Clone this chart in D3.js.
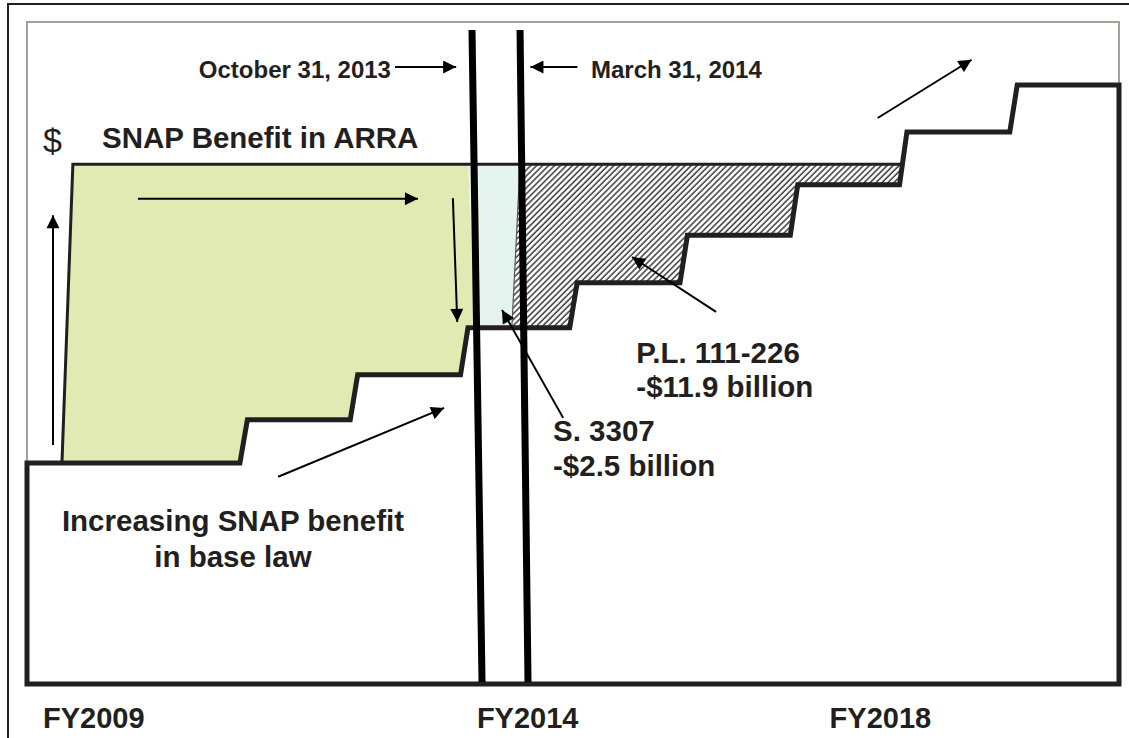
<!DOCTYPE html>
<html>
<head>
<meta charset="utf-8">
<script src="https://cdn.jsdelivr.net/npm/d3@7"></script>
<style>
body { margin: 0; background: #fff; }
text { font-family: "Liberation Sans", Arial, sans-serif; fill: #231f20; }
</style>
</head>
<body>
<div id="entry"></div>
<script>
// base law benefit steps: time in plot units (x), benefit as an index (y)
var periodStart = [0, 1.95, 2.96, 3.97, 4.97, 5.98, 6.99, 7.99, 9.0];
var baseLevel = [33.4, 39.9, 46.7, 53.8, 60.6, 67.8, 75.4, 83.4, 90.5];
var riser = 0.068;

// ARRA benefit level and the edges of the shaded pieces
var arraLevel = 78.5;
var arraLeft = [0.32, 0.42];      // bottom, top
var arraRight = [4.10, 4.04];     // bottom, top
var s3307Right = [4.44, 4.515];   // bottom, top

var eventNames = ['October 31, 2013', 'March 31, 2014'];
var eventTop = [4.075, 4.515];
var eventBottom = [4.167, 4.588];

var fyLabels = ['FY2009', 'FY2014', 'FY2018'];
var fyPos = [0.147, 4.12, 7.35];

// annotation arrows [t0, v0, t1, v1]
var arrows = [
  [0.238, 36.1, 0.238, 70.8],
  [1.016, 73.3, 3.58, 73.3],
  [3.90, 73.4, 3.94, 54.7],
  [2.30, 31.3, 3.82, 41.7],
  [4.91, 40.2, 4.35, 56.5],
  [6.31, 56.2, 5.54, 64.5],
  [7.79, 85.5, 8.65, 94.3],
  [3.37, 93.2, 3.93, 93.2],
  [5.04, 93.2, 4.61, 93.2]
];

// text labels [text, t, v, anchor, size, weight]
var labels = [
  ['$', 0.147, 80.4, 'start', 34, 'normal'],
  ['SNAP Benefit in ARRA', 0.687, 81.0, 'start', 29.5, 'bold'],
  ['October 31, 2013', 3.333, 91.5, 'end', 24, 'bold'],
  ['March 31, 2014', 5.165, 91.5, 'start', 24, 'bold'],
  ['Increasing SNAP benefit', 1.886, 23.1, 'middle', 29.5, 'bold'],
  ['in base law', 1.886, 17.7, 'middle', 29.5, 'bold'],
  ['S. 3307', 4.817, 36.7, 'start', 29.5, 'bold'],
  ['-$2.5 billion', 4.817, 31.4, 'start', 29.5, 'bold'],
  ['P.L. 111-226', 5.58, 48.5, 'start', 29.5, 'bold'],
  ['-$11.9 billion', 5.58, 43.35, 'start', 29.5, 'bold']
];

var width = 1129, height = 738;

var x = d3.scaleLinear().domain([0, 10]).range([27, 1119]);
var y = d3.scaleLinear().domain([0, 100]).range([684, 22]);

var line = d3.line()
  .x(function(d) { return x(d[0]); })
  .y(function(d) { return y(d[1]); });

function stepPoints() {
  var pts = [[0, baseLevel[0]]];
  for (var i = 1; i < periodStart.length; i++) {
    pts.push([periodStart[i], baseLevel[i - 1]]);
    pts.push([periodStart[i] + riser, baseLevel[i]]);
  }
  pts.push([10, baseLevel[baseLevel.length - 1]]);
  return pts;
}

function levelAt(t) {
  var pts = stepPoints();
  for (var i = 1; i < pts.length; i++) {
    if (t <= pts[i][0]) {
      var a = pts[i - 1], b = pts[i];
      if (b[0] === a[0]) return b[1];
      return a[1] + (b[1] - a[1]) * (t - a[0]) / (b[0] - a[0]);
    }
  }
  return pts[pts.length - 1][1];
}

function stepBetween(t0, t1) {
  var out = [[t0, levelAt(t0)]];
  stepPoints().forEach(function(p) {
    if (p[0] > t0 && p[0] < t1) out.push(p);
  });
  out.push([t1, levelAt(t1)]);
  return out;
}

var svg = d3.select('#entry').append('svg')
  .attr('width', width)
  .attr('height', height);

var defs = svg.append('defs');

defs.append('pattern')
  .attr('id', 'hatch')
  .attr('patternUnits', 'userSpaceOnUse')
  .attr('width', 4.2)
  .attr('height', 4.2)
  .attr('patternTransform', 'rotate(45)')
  .call(function(p) {
    p.append('rect').attr('width', 4.2).attr('height', 4.2).attr('fill', '#fff');
    p.append('line').attr('x1', 1).attr('x2', 1).attr('y1', 0).attr('y2', 4.2)
      .attr('stroke', '#3a3a3a').attr('stroke-width', 1.5);
  });

defs.append('marker')
  .attr('id', 'head')
  .attr('viewBox', '0 0 10 10')
  .attr('refX', 10)
  .attr('refY', 5)
  .attr('markerUnits', 'userSpaceOnUse')
  .attr('markerWidth', 14)
  .attr('markerHeight', 13)
  .attr('orient', 'auto')
  .append('path')
  .attr('d', 'M0,0L10,5L0,10Z')
  .attr('fill', '#000');

// outer border (only top and left fall inside the picture)
svg.append('path')
  .attr('d', 'M8,' + height + 'V4H' + width)
  .attr('fill', 'none')
  .attr('stroke', '#231f20')
  .attr('stroke-width', 2);

// inner frame
svg.append('rect')
  .attr('x', x(0))
  .attr('y', y(100))
  .attr('width', x(10) - x(0))
  .attr('height', y(0) - y(100))
  .attr('fill', 'none')
  .attr('stroke', '#a89f98')
  .attr('stroke-width', 2);

// P.L. 111-226 cut (hatched), the part under the steps is covered later
svg.append('path')
  .attr('d', line([[s3307Right[1], arraLevel], [10, arraLevel], [10, 0], [s3307Right[0], 0],
    [s3307Right[0], levelAt(s3307Right[0])]]) + 'Z')
  .attr('fill', 'url(#hatch)');

// S. 3307 cut
svg.append('path')
  .attr('d', line([[arraRight[1], arraLevel], [s3307Right[1], arraLevel],
    [s3307Right[0], levelAt(s3307Right[0])], [arraRight[0], levelAt(arraRight[0])]]) + 'Z')
  .attr('fill', '#e6f4ef');

// ARRA benefit
var arraPts = [[arraLeft[0], levelAt(arraLeft[0])], [arraLeft[1], arraLevel],
  [arraRight[1], arraLevel], [arraRight[0], levelAt(arraRight[0])]]
  .concat(stepBetween(arraLeft[0], arraRight[0]).reverse());

svg.append('path')
  .attr('d', line(arraPts) + 'Z')
  .attr('fill', '#e0eab2');

svg.append('path')
  .attr('d', line([[arraLeft[0], levelAt(arraLeft[0])], [arraLeft[1], arraLevel], [10, arraLevel]]))
  .attr('fill', 'none')
  .attr('stroke', '#231f20')
  .attr('stroke-width', 3);

svg.append('path')
  .attr('d', line([[s3307Right[1], arraLevel], [s3307Right[0], levelAt(s3307Right[0])]]))
  .attr('stroke', '#555')
  .attr('stroke-width', 1.2);

// base law benefit
svg.append('path')
  .attr('d', line([[0, 0]].concat(stepPoints(), [[10, 0]])) + 'Z')
  .attr('fill', '#fff')
  .attr('stroke', '#231f20')
  .attr('stroke-width', 5)
  .attr('stroke-linejoin', 'miter');

// dates
svg.selectAll('.event')
  .data(eventNames)
  .enter()
  .append('line')
  .attr('class', 'event')
  .attr('x1', function(d, i) { return x(eventTop[i]); })
  .attr('x2', function(d, i) { return x(eventBottom[i]); })
  .attr('y1', y(98.8))
  .attr('y2', y(0.3))
  .attr('stroke', '#000')
  .attr('stroke-width', 7);

svg.selectAll('.arrow')
  .data(arrows)
  .enter()
  .append('line')
  .attr('class', 'arrow')
  .attr('x1', function(d) { return x(d[0]); })
  .attr('y1', function(d) { return y(d[1]); })
  .attr('x2', function(d) { return x(d[2]); })
  .attr('y2', function(d) { return y(d[3]); })
  .attr('stroke', '#000')
  .attr('stroke-width', 2)
  .attr('marker-end', 'url(#head)');

svg.selectAll('.label')
  .data(labels)
  .enter()
  .append('text')
  .attr('class', 'label')
  .attr('x', function(d) { return x(d[1]); })
  .attr('y', function(d) { return y(d[2]); })
  .attr('text-anchor', function(d) { return d[3]; })
  .style('font-size', function(d) { return d[4] + 'px'; })
  .style('font-weight', function(d) { return d[5]; })
  .text(function(d) { return d[0]; });

svg.selectAll('.fy')
  .data(fyLabels)
  .enter()
  .append('text')
  .attr('class', 'fy')
  .attr('x', function(d, i) { return x(fyPos[i]); })
  .attr('y', 728)
  .style('font-size', '29px')
  .style('font-weight', 'bold')
  .text(function(d) { return d; });
</script>
</body>
</html>
